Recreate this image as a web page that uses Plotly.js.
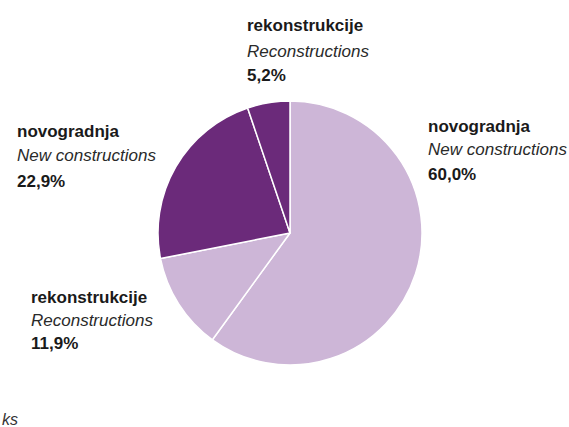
<!DOCTYPE html>
<html>
<head>
<meta charset="utf-8">
<script src="https://cdn.plot.ly/plotly-3.0.1.min.js"></script>
<style>html,body{margin:0;padding:0;background:#fff;}#chart{width:569px;height:427px;}</style>
</head>
<body>
<div id="chart"></div>
<script>
var categories = ["novogradnja", "rekonstrukcije", "novogradnja", "rekonstrukcije"];
var categoriesEn = ["New constructions", "Reconstructions", "New constructions", "Reconstructions"];
var values = [60.0, 11.9, 22.9, 5.2];
var valueLabels = ["60,0%", "11,9%", "22,9%", "5,2%"];
var colors = ["#cdb6d7", "#cdb6d7", "#6b2a7a", "#6b2a7a"];
var footnote = "ks";

// label placement (pixels) for each slice: [x, y of first line]
var labelPos = [[426, 126], [29, 297], [15, 131], [245, 26]];
var lineGap = [24, 23, 25, 25];

var W = 569, H = 427;
var annotations = [];
var fontFam = "'Liberation Sans', Arial, sans-serif";
for (var i = 0; i < values.length; i++) {
  var x = labelPos[i][0] / W;
  var y0 = labelPos[i][1];
  var g = lineGap[i];
  var lines = [
    {t: "<b>" + categories[i] + "</b>", c: "#1a1a1a"},
    {t: "<i>" + categoriesEn[i] + "</i>", c: "#2a2a2a"},
    {t: "<b>" + valueLabels[i] + "</b>", c: "#1a1a1a"}
  ];
  for (var k = 0; k < 3; k++) {
    annotations.push({
      xref: "paper", yref: "paper", x: x, y: 1 - (y0 + k * g) / H,
      xanchor: "left", yanchor: "middle", showarrow: false,
      text: lines[k].t,
      font: {family: fontFam, size: 17, color: lines[k].c}
    });
  }
}
annotations.push({
  xref: "paper", yref: "paper", x: 0, y: 1 - 419 / H,
  xanchor: "left", yanchor: "middle", showarrow: false,
  text: "<i>" + footnote + "</i>",
  font: {family: fontFam, size: 16, color: "#333"}
});

var data = [{
  type: "pie",
  values: values,
  labels: ["a", "b", "c", "d"],
  sort: false,
  direction: "clockwise",
  rotation: 0,
  textinfo: "none",
  hoverinfo: "none",
  marker: {colors: colors, line: {color: "#ffffff", width: 1.5}},
  domain: {x: [158 / W, 422 / W], y: [62 / H, 326 / H]},
  showlegend: false
}];

var layout = {
  width: W, height: H,
  margin: {l: 0, r: 0, t: 0, b: 0},
  paper_bgcolor: "#ffffff",
  plot_bgcolor: "#ffffff",
  showlegend: false,
  annotations: annotations
};

Plotly.newPlot("chart", data, layout, {displayModeBar: false, staticPlot: true});
</script>
</body>
</html>
